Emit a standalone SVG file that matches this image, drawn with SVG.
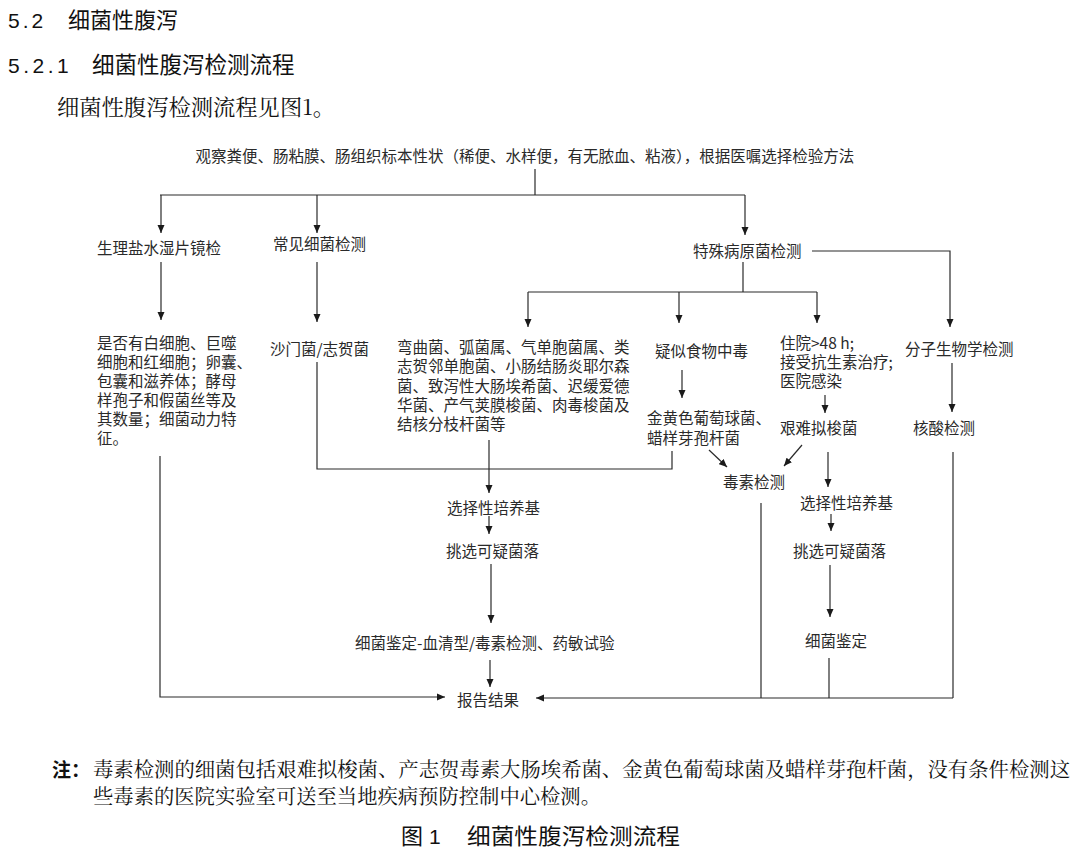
<svg xmlns="http://www.w3.org/2000/svg" width="1080" height="854" viewBox="0 0 1080 854">
<style>
.h{font-family:"Liberation Sans","Noto Sans CJK SC",sans-serif;fill:#111;}
.s{font-family:"Noto Serif CJK SC","Liberation Serif","Noto Sans CJK SC",serif;fill:#111;}
.t{font-family:"Noto Sans CJK SC","Liberation Sans",sans-serif;font-size:15.5px;fill:#2a2a2a;dominant-baseline:central;}
.c path{fill:none;stroke:#2a2a2a;stroke-width:1.2;}
.a{marker-end:url(#ah);}
</style>
<defs>
<marker id="ah" markerUnits="userSpaceOnUse" markerWidth="9" markerHeight="8" refX="8" refY="4" orient="auto">
<path d="M0,0.5 L8,4 L0,7.5 z" fill="#1a1a1a"/>
</marker>
</defs>
<rect width="1080" height="854" fill="#fff"/>

<g id="headings">
<text class="h" x="8" y="28" font-size="21" letter-spacing="3">5.2</text>
<text class="h" x="68" y="28" font-size="22">细菌性腹泻</text>
<text class="h" x="8" y="73" font-size="21" letter-spacing="3.5">5.2.1</text>
<text class="h" x="92" y="73" font-size="22.5">细菌性腹泻检测流程</text>
<text class="s" x="57" y="115" font-size="22" textLength="278" lengthAdjust="spacingAndGlyphs">细菌性腹泻检测流程见图1。</text>
</g>

<g class="c" id="connectors">
<path d="M535,169 V195"/>
<path d="M160,195 H745"/>
<path class="a" d="M161,195 V233"/>
<path class="a" d="M317,195 V233"/>
<path class="a" d="M745,195 V235"/>
<path class="a" d="M161,262 V320"/>
<path class="a" d="M317,262 V322"/>
<path class="a" d="M812,251 H950 V327"/>
<path d="M743,262 V292"/>
<path d="M528,292 H817"/>
<path class="a" d="M528,292 V327"/>
<path class="a" d="M679,292 V323"/>
<path class="a" d="M817,292 V323"/>
<path class="a" d="M682,370 V398"/>
<path class="a" d="M825,395 V413"/>
<path class="a" d="M952,363 V412"/>
<path d="M317,362 V469 H672 V451"/>
<path class="a" d="M489,440 V493"/>
<path class="a" d="M709,450 L727,467"/>
<path class="a" d="M802,445 L784,466"/>
<path class="a" d="M828,452 V487"/>
<path class="a" d="M831,514 V531"/>
<path class="a" d="M830,565 V617"/>
<path d="M829,658 V698"/>
<path d="M761,503 V698"/>
<path d="M953,452 V698"/>
<path class="a" d="M953,698 H536"/>
<path class="a" d="M160,456 V697 H445"/>
<path class="a" d="M489,516 V534"/>
<path class="a" d="M491,564 V623"/>
<path class="a" d="M490,660 V687"/>
</g>

<g id="n-top"><text class="t" x="525" y="155" text-anchor="middle">观察粪便、肠粘膜、肠组织标本性状（稀便、水样便，有无脓血、粘液），根据医嘱选择检验方法</text></g>
<g id="n-wetmount"><text class="t" x="97" y="247">生理盐水湿片镜检</text></g>
<g id="n-common"><text class="t" x="273" y="243">常见细菌检测</text></g>
<g id="n-special"><text class="t" x="693" y="250">特殊病原菌检测</text></g>
<g id="n-wetmount-result">
<text class="t" x="97" y="342"><tspan x="97" y="342">是否有白细胞、巨噬</tspan><tspan x="97" y="361">细胞和红细胞；卵囊、</tspan><tspan x="97" y="380">包囊和滋养体；酵母</tspan><tspan x="97" y="399">样孢子和假菌丝等及</tspan><tspan x="97" y="418">其数量；细菌动力特</tspan><tspan x="97" y="437">征。</tspan></text>
</g>
<g id="n-salmonella"><text class="t" x="270" y="348">沙门菌/志贺菌</text></g>
<g id="n-others">
<text class="t" x="397" y="346"><tspan x="397" y="346">弯曲菌、弧菌属、气单胞菌属、类</tspan><tspan x="397" y="365">志贺邻单胞菌、小肠结肠炎耶尔森</tspan><tspan x="397" y="385">菌、致泻性大肠埃希菌、迟缓爱德</tspan><tspan x="397" y="404">华菌、产气荚膜梭菌、肉毒梭菌及</tspan><tspan x="397" y="423">结核分枝杆菌等</tspan></text>
</g>
<g id="n-food"><text class="t" x="655" y="350">疑似食物中毒</text></g>
<g id="n-hospital">
<text class="t" x="780" y="342"><tspan x="780" y="342">住院&gt;48 h;</tspan><tspan x="780" y="361">接受抗生素治疗;</tspan><tspan x="780" y="380">医院感染</tspan></text>
</g>
<g id="n-molecular"><text class="t" x="905" y="348">分子生物学检测</text></g>
<g id="n-staph">
<text class="t" x="647" y="417"><tspan x="647" y="417">金黄色葡萄球菌、</tspan><tspan x="647" y="437">蜡样芽孢杆菌</tspan></text>
</g>
<g id="n-cdiff"><text class="t" x="780" y="427">艰难拟梭菌</text></g>
<g id="n-nucleic"><text class="t" x="913" y="427">核酸检测</text></g>
<g id="n-toxin"><text class="t" x="723" y="481">毒素检测</text></g>
<g id="n-medium-l"><text class="t" x="447" y="507">选择性培养基</text></g>
<g id="n-pick-l"><text class="t" x="446" y="550">挑选可疑菌落</text></g>
<g id="n-ident-l"><text class="t" x="355" y="642">细菌鉴定-血清型/毒素检测、药敏试验</text></g>
<g id="n-report"><text class="t" x="457" y="699">报告结果</text></g>
<g id="n-medium-r"><text class="t" x="800" y="502">选择性培养基</text></g>
<g id="n-pick-r"><text class="t" x="793" y="550">挑选可疑菌落</text></g>
<g id="n-ident-r"><text class="t" x="805" y="640">细菌鉴定</text></g>

<g id="note">
<text class="h" x="52" y="777" font-size="19" font-weight="bold">注：</text>
<text class="s" x="93" y="777" font-size="20"><tspan x="93" y="777" textLength="977" lengthAdjust="spacingAndGlyphs">毒素检测的细菌包括艰难拟梭菌、产志贺毒素大肠埃希菌、金黄色葡萄球菌及蜡样芽孢杆菌，没有条件检测这</tspan><tspan x="93" y="804" textLength="508" lengthAdjust="spacingAndGlyphs">些毒素的医院实验室可送至当地疾病预防控制中心检测。</tspan></text>
</g>
<g id="caption">
<text class="h" x="401" y="844" font-size="22">图</text>
<text class="h" x="429" y="844" font-size="21">1</text>
<text class="h" x="467" y="844" font-size="22" textLength="213" lengthAdjust="spacingAndGlyphs">细菌性腹泻检测流程</text>
</g>
</svg>
